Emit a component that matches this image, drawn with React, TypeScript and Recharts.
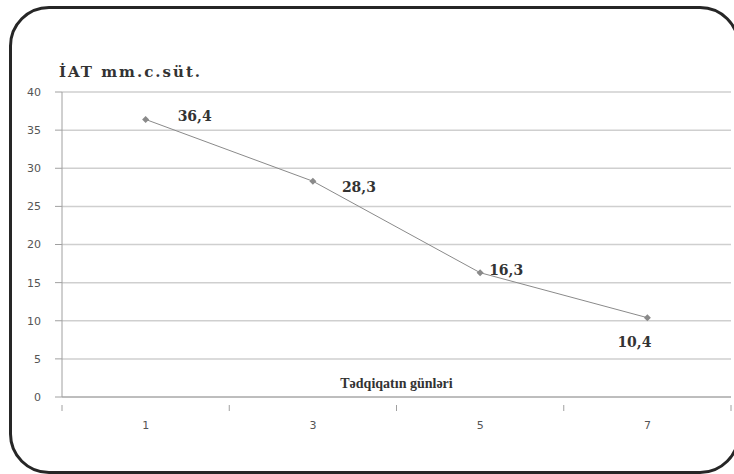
import React from 'react';
import { ComposedChart, Line, XAxis, YAxis, CartesianGrid, LabelList, Label } from 'recharts';

// Dinamika: İAT göstəricisi tədqiqat günlərinə görə
const DAYS = ['1', '3', '5', '7'];
const IAT = [36.4, 28.3, 16.3, 10.4];
const Y_TICKS = [0, 5, 10, 15, 20, 25, 30, 35, 40];

const data = DAYS.map((d, i) => ({ day: d, iat: IAT[i] }));

// label offsets relative to each point (dx of text start, dy of baseline)
const LABEL_OFFSETS = [
  [32, 2],
  [29, 11],
  [9, 2],
  [-30, 29],
];

const W = 734;
const H = 474;
const MARGIN = { top: 92, right: 3, bottom: 17, left: 0 };
const Y_WIDTH = 62;
const BAND = (W - MARGIN.left - MARGIN.right - Y_WIDTH) / DAYS.length;

const serif = '"DejaVu Serif", "Liberation Serif", serif';
const times = '"Liberation Serif", "DejaVu Serif", serif';
const sans = '"DejaVu Sans", Verdana, sans-serif';

const Diamond = (props: any) => {
  const { cx, cy } = props;
  if (cx == null || cy == null) return null;
  const r = 3.5;
  return (
    <polygon
      points={`${cx},${cy - r} ${cx + r},${cy} ${cx},${cy + r} ${cx - r},${cy}`}
      fill="#8a8a8a"
    />
  );
};

const XTick = (props: any) => {
  const { x, y, payload, index } = props;
  const left = x - BAND / 2;
  return (
    <g>
      <line x1={left} y1={y} x2={left} y2={y + 6} stroke="#a0a0a0" />
      {index === DAYS.length - 1 && (
        <line x1={x + BAND / 2} y1={y} x2={x + BAND / 2} y2={y + 6} stroke="#a0a0a0" />
      )}
      <text x={x} y={y + 24} textAnchor="middle" fontSize={11} fill="#555555" fontFamily={sans}>
        {payload.value}
      </text>
    </g>
  );
};

const ValueLabel = (props: any) => {
  const { x, y, value, index } = props;
  const [dx, dy] = LABEL_OFFSETS[index] || [8, 0];
  return (
    <text x={x + dx} y={y + dy} fontSize={14} fontWeight="bold" fill="#333" fontFamily={serif}>
      {String(value).replace('.', ',')}
    </text>
  );
};

const AxisTitle = (props: any) => {
  const { viewBox } = props;
  if (!viewBox) return null;
  return (
    <text
      x={viewBox.x + viewBox.width / 2}
      y={viewBox.y - 9}
      textAnchor="middle"
      fontFamily={times}
      fontWeight="bold"
      fontSize={14}
      fill="#333"
    >
      Tədqiqatın günləri
    </text>
  );
};

export default function App() {
  return (
    <div style={{ position: 'absolute', left: 0, top: 0, width: W, height: H, background: '#fff', overflow: 'hidden' }}>
      <div
        style={{
          position: 'absolute',
          left: 9,
          top: 6,
          width: 731,
          height: 468,
          border: '3px solid #262626',
          borderRadius: 40,
          boxSizing: 'border-box',
        }}
      />
      <div
        style={{
          position: 'absolute',
          left: 59,
          top: 63,
          fontFamily: serif,
          fontWeight: 'bold',
          fontSize: 15,
          letterSpacing: 2,
          color: '#333',
          whiteSpace: 'nowrap',
        }}
      >
        İAT mm.c.süt.
      </div>
      <div style={{ position: 'absolute', left: 0, top: 0 }}>
        <ComposedChart width={W} height={H} data={data} margin={MARGIN}>
          <CartesianGrid vertical={false} stroke="#cfcfcf" strokeWidth={1.5} />
          <XAxis
            dataKey="day"
            axisLine={{ stroke: '#a0a0a0' }}
            tickLine={false}
            tick={<XTick />}
            height={60}
            interval={0}
            padding={{ left: BAND / 2, right: BAND / 2 }}
          >
            <Label content={<AxisTitle />} />
          </XAxis>
          <YAxis
            domain={[0, 40]}
            ticks={Y_TICKS}
            width={Y_WIDTH}
            axisLine={{ stroke: '#a0a0a0' }}
            tickLine={{ stroke: '#a0a0a0' }}
            tickSize={7}
            tickMargin={14}
            tick={{ fontSize: 11, fill: '#555', fontFamily: sans }}
          />
          <Line
            dataKey="iat"
            stroke="#8a8a8a"
            strokeWidth={1}
            dot={<Diamond />}
            activeDot={false}
            isAnimationActive={false}
          >
            <LabelList dataKey="iat" content={<ValueLabel />} />
          </Line>
        </ComposedChart>
      </div>
    </div>
  );
}
